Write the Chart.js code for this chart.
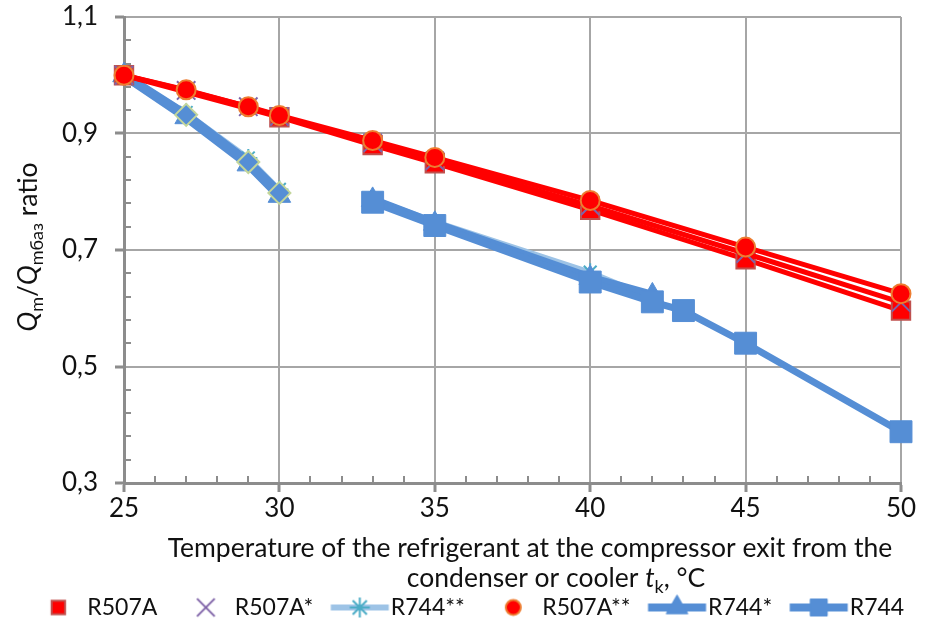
<!DOCTYPE html>
<html><head><meta charset="utf-8">
<script src="https://cdn.jsdelivr.net/npm/chart.js@4.4.1/dist/chart.umd.min.js"></script>
<style>html,body{margin:0;padding:0;background:#fff;}</style>
</head><body>
<canvas id="c" width="926" height="625" style="width:926px;height:625px;display:block"></canvas>
<script>
// ---------- data ----------
const xTicks = [25, 30, 35, 40, 45, 50];
const yTicks = [0.3, 0.5, 0.7, 0.9, 1.1];

const xR507A   = [25, 30, 33, 35, 40, 45, 50];
const yR507A   = [1.000, 0.928, 0.880, 0.849, 0.769, 0.684, 0.596];

const xR507As  = [25, 27, 29, 30, 33, 35, 40, 45, 50];
const yR507As  = [1.000, 0.974, 0.946, 0.929, 0.884, 0.853, 0.776, 0.694, 0.610];

const xR507Ass = [25, 27, 29, 30, 33, 35, 40, 45, 50];
const yR507Ass = [1.000, 0.975, 0.946, 0.931, 0.888, 0.859, 0.785, 0.705, 0.625];

const xR744ss  = [25, 27, 29, 30, 31, 33, 35, 40, 42];
const yR744ss  = [1.000, 0.936, 0.858, 0.804, null, 0.788, 0.749, 0.662, 0.618];

const xR744s   = [25, 27, 29, 30, 31, 33, 35, 40, 42];
const yR744s   = [1.000, 0.928, 0.847, 0.793, null, 0.786, 0.745, 0.652, 0.622];

const xR744d   = [25, 27, 29, 30];
const yR744d   = [1.000, 0.932, 0.851, 0.798];

const xR744    = [33, 35, 40, 42, 43, 45, 50];
const yR744    = [0.782, 0.742, 0.645, 0.611, 0.596, 0.540, 0.388];

const yTitle  = [{t:'Q',it:1},{t:'m',sub:1},{t:'/'},{t:'Q',it:1},{t:'mбаз',sub:1},{t:' ratio'}];
const xTitle1 = [{t:'Temperature of the refrigerant at the compressor exit from the'}];
const xTitle2 = [{t:'condenser or cooler '},{t:'t',it:1},{t:'k',sub:1},{t:', °C'}];

// ---------- style ----------
const FONT = 'Lato, "DejaVu Sans", sans-serif';
const FS = 26, TFS = 26.5, LFS = 23;
const TXT = '#111111';
const RED = '#FF0000', BLUE = '#558ED5', LBLUE = '#9DC3E6';
const AXIS = '#8c8c8c', GRID = '#a6a6a6';

function pts(xs, ys) { return xs.map((x, i) => ({x: x, y: ys[i]})); }

const datasets = [
  { label:'R507A**', data: pts(xR507Ass, yR507Ass), order:1,
    borderColor: RED, borderWidth:5, pointStyle:'circle', pointRadius:9.5,
    pointBackgroundColor: RED, pointBorderColor:'#ED7D31', pointBorderWidth:2 },
  { label:'R507A*', data: pts(xR507As, yR507As), order:2,
    borderColor: RED, borderWidth:5, pointStyle:'crossRot', pointRadius:13,
    pointBackgroundColor:'rgba(0,0,0,0)', pointBorderColor:'#7F63A8', pointBorderWidth:2 },
  { label:'R507A', data: pts(xR507A, yR507A), order:3,
    borderColor: RED, borderWidth:5, pointStyle:'rect', pointRadius:13,
    pointBackgroundColor: RED, pointBorderColor:'#C0504D', pointBorderWidth:2 },
  { label:'R744', data: pts(xR744, yR744), order:4,
    borderColor: BLUE, borderWidth:7, pointStyle:'rect', pointRadius:15.5,
    pointBackgroundColor: BLUE, pointBorderColor: BLUE, pointBorderWidth:1 },
  { label:'', data: pts(xR744d, yR744d), order:5,
    borderColor: BLUE, borderWidth:9, pointStyle:'rectRot', pointRadius:[0, 11, 11, 11],
    pointBackgroundColor: BLUE, pointBorderColor:'#C3D69B', pointBorderWidth:2 },
  { label:'R744*', data: pts(xR744s, yR744s), order:6,
    borderColor: BLUE, borderWidth:9, pointStyle:'triangle', pointRadius:13,
    pointBackgroundColor: BLUE, pointBorderColor: BLUE, pointBorderWidth:1 },
  { label:'R744**', data: pts(xR744ss, yR744ss), order:7,
    borderColor: LBLUE, borderWidth:5, pointStyle:'star', pointRadius:9,
    pointBackgroundColor:'rgba(0,0,0,0)', pointBorderColor:'#4BACC6', pointBorderWidth:2 }
];
datasets.forEach(d => { d.tension = 0; d.clip = false; d.spanGaps = false; d.fill = false; d.yAxisID = 'y'; });

// ---------- legend icons ----------
function icon(spec) {
  const W = 70, H = 30;
  const c = document.createElement('canvas'); c.width = W; c.height = H;
  const g = c.getContext('2d');
  const cy = H / 2;
  let mx = 41.5;
  if (spec.line) {
    g.strokeStyle = spec.line; g.lineWidth = spec.lw; g.lineCap = 'butt';
    g.beginPath(); g.moveTo(10.5, cy); g.lineTo(68.5, cy); g.stroke();
    mx = 39.5;
  }
  g.fillStyle = spec.fill || 'rgba(0,0,0,0)';
  g.strokeStyle = spec.stroke; g.lineWidth = spec.bw;
  Chart.helpers.drawPoint(g, {pointStyle: spec.style, radius: spec.r, rotation: 0, borderWidth: spec.bw}, mx, cy);
  return c;
}
const legendItems = [
  {text:'R507A',   icon:{style:'rect', r:9.5, fill:RED, stroke:'#C0504D', bw:2}},
  {text:'R507A*',  icon:{style:'crossRot', r:12.5, stroke:'#7F63A8', bw:2}},
  {text:'R744**',  icon:{line:LBLUE, lw:6, style:'star', r:10, stroke:'#4BACC6', bw:2}},
  {text:'R507A**', icon:{style:'circle', r:7.5, fill:RED, stroke:'#ED7D31', bw:2}},
  {text:'R744*',   icon:{line:BLUE, lw:8, style:'triangle', r:12.5, fill:BLUE, stroke:BLUE, bw:1}},
  {text:'R744',    icon:{line:BLUE, lw:8, style:'rect', r:12, fill:BLUE, stroke:BLUE, bw:1}}
];

// ---------- rich text helpers ----------
function segFont(s, size) {
  const sz = s.sub ? Math.round(size * 0.68) : size;
  return (s.it ? 'italic ' : '') + sz + 'px ' + FONT;
}
function richWidth(ctx, segs, size) {
  let w = 0;
  for (const s of segs) { ctx.font = segFont(s, size); w += ctx.measureText(s.t).width; }
  return w;
}
function drawRich(ctx, segs, cx, baseY, size) {
  const w = richWidth(ctx, segs, size);
  let x = cx - w / 2;
  ctx.textAlign = 'left'; ctx.textBaseline = 'alphabetic';
  for (const s of segs) {
    ctx.font = segFont(s, size);
    ctx.fillText(s.t, x, baseY + (s.sub ? size * 0.22 : 0));
    x += ctx.measureText(s.t).width;
  }
}

const decor = {
  id: 'decor',
  beforeDatasetsDraw(chart) {
    const {ctx, chartArea: a, scales: {x, y}} = chart;
    ctx.save();
    ctx.strokeStyle = AXIS; ctx.lineWidth = 2;
    ctx.beginPath();
    for (let v = 26; v < 50; v++) {
      if (v % 5 === 0) continue;
      const px = Math.round(x.getPixelForValue(v));
      ctx.moveTo(px, a.bottom); ctx.lineTo(px, a.bottom - 7);
    }
    for (let k = 1; k < 20; k++) {
      if (k % 5 === 0) continue;
      const py = Math.round(y.getPixelForValue(0.3 + k * 0.04));
      ctx.moveTo(a.left, py); ctx.lineTo(a.left + 7, py);
    }
    ctx.stroke();
    // major y tick marks (outside)
    ctx.lineWidth = 3;
    ctx.beginPath();
    for (const v of yTicks) {
      const py = Math.round(y.getPixelForValue(v));
      ctx.moveTo(a.left - 9, py); ctx.lineTo(a.left, py);
    }
    ctx.stroke();
    ctx.restore();
  },
  afterDraw(chart) {
    const {ctx} = chart;
    ctx.save();
    ctx.fillStyle = TXT;
    drawRich(ctx, xTitle1, 530, 557, TFS);
    drawRich(ctx, xTitle2, 556, 587, TFS);
    ctx.translate(37, 247);
    ctx.rotate(-Math.PI / 2);
    drawRich(ctx, yTitle, 0, 0, TFS);
    ctx.restore();
  }
};

const tickFont = {family: FONT, size: FS};

new Chart(document.getElementById('c'), {
  type: 'line',
  data: { datasets: datasets },
  plugins: [decor],
  options: {
    responsive: false,
    animation: false,
    devicePixelRatio: 1,
    events: [],
    layout: { padding: {left: 8, right: 2, top: 17, bottom: -4} },
    plugins: {
      tooltip: {enabled: false},
      title: {display: false},
      legend: {
        position: 'bottom', align: 'center',
        labels: {
          usePointStyle: true, boxWidth: 48, pointStyleWidth: 48, padding: 18,
          font: {family: FONT, size: LFS}, color: TXT,
          generateLabels: () => legendItems.map(it => ({
            text: it.text, pointStyle: icon(it.icon), fillStyle: 'rgba(0,0,0,0)',
            strokeStyle: 'rgba(0,0,0,0)', lineWidth: 0, hidden: false, fontColor: TXT,
            datasetIndex: datasets.findIndex(d => d.label === it.text)
          }))
        }
      }
    },
    scales: {
      x: {
        type: 'linear', min: 25, max: 50,
        afterBuildTicks: s => { s.ticks = xTicks.map(v => ({value: v})); },
        afterFit: s => { s.height = 95; },
        ticks: { font: tickFont, color: TXT, padding: 1, maxRotation: 0, autoSkip: false,
                 callback: v => String(v) },
        grid: { color: GRID, lineWidth: 2, tickColor: AXIS, tickLength: 9, tickWidth: 3 },
        border: { color: AXIS, width: 3 }
      },
      y: {
        type: 'linear', min: 0.3, max: 1.1, position: 'left',
        afterBuildTicks: s => { s.ticks = yTicks.map(v => ({value: v})); },
        afterFit: s => { s.width = 116; },
        ticks: { font: tickFont, color: TXT, padding: 0,
                 callback: v => Number(v).toFixed(1).replace('.', ',') },
        grid: { color: GRID, lineWidth: 2, tickColor: 'rgba(0,0,0,0)', tickLength: 26, tickWidth: 3 },
        border: { color: AXIS, width: 3 }
      },
      y2: {
        type: 'linear', min: 0.3, max: 1.1, position: 'right', display: true,
        afterFit: s => { s.width = 23; },
        ticks: { display: false },
        grid: { display: false, drawTicks: false },
        border: { display: false }
      }
    }
  }
});
</script>
</body></html>
